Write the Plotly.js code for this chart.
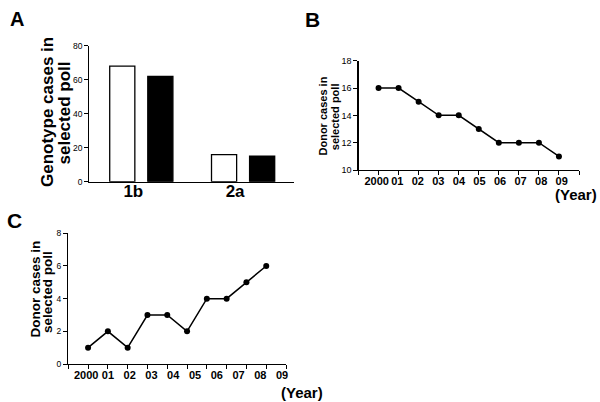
<!DOCTYPE html>
<html>
<head>
<meta charset="utf-8">
<script src="https://cdn.plot.ly/plotly-3.0.1.min.js"></script>
<style>html,body{margin:0;padding:0;background:#fff;}#chart{width:600px;height:402px;}</style>
</head>
<body>
<div id="chart"></div>
<script>
// ---- data ----
var genotypeCategories = ['1b', '2a'];
var genotypeOpen = [68, 16];
var genotypeFilled = [62, 15];
var yearLabels = ['2000', '01', '02', '03', '04', '05', '06', '07', '08', '09'];
var donorCasesB = [16, 16, 15, 14, 14, 13, 12, 12, 12, 11];
var donorCasesC = [1, 2, 1, 3, 3, 2, 4, 4, 5, 6];
var yTicksA = [0, 20, 40, 60, 80];
var yTicksB = [10, 12, 14, 16, 18];
var yTicksC = [0, 2, 4, 6, 8];

var yearIndex = yearLabels.map(function (_, i) { return i + 1; });
var axisTicks = [];
for (var k = 0; k <= yearLabels.length + 1; k++) axisTicks.push(k);

var BOLD = 'Liberation Sans, Arial, sans-serif';

var traces = [
  {type: 'bar', x: genotypeCategories, y: genotypeOpen, xaxis: 'x', yaxis: 'y',
   marker: {color: '#ffffff', line: {color: '#000', width: 1.3}}, hoverinfo: 'skip'},
  {type: 'bar', x: genotypeCategories, y: genotypeFilled, xaxis: 'x', yaxis: 'y',
   marker: {color: '#000000', line: {color: '#000', width: 1.3}}, hoverinfo: 'skip'},
  {type: 'scatter', mode: 'lines+markers', x: yearIndex, y: donorCasesB, xaxis: 'x2', yaxis: 'y2',
   line: {color: '#000', width: 1.5}, marker: {color: '#000', size: 6}, hoverinfo: 'skip'},
  {type: 'scatter', mode: 'lines+markers', x: yearIndex, y: donorCasesC, xaxis: 'x3', yaxis: 'y3',
   line: {color: '#000', width: 1.5}, marker: {color: '#000', size: 6}, hoverinfo: 'skip'},
  {type: 'scatter', x: [], y: [], xaxis: 'x4', yaxis: 'y2', hoverinfo: 'skip'},
  {type: 'scatter', x: [], y: [], xaxis: 'x5', yaxis: 'y3', hoverinfo: 'skip'}
];

function yAx(domain, range, ticks, size, anchor) {
  return {domain: domain, range: range, anchor: anchor, tickvals: ticks, showgrid: false, zeroline: false,
    showline: true, linecolor: '#000', linewidth: 1.3, ticks: 'outside', ticklen: 4, tickwidth: 1, tickcolor: '#000',
    tickfont: {family: 'Liberation Sans, Arial', size: size, color: '#000'}, fixedrange: true};
}
function xMain(domain, anchor) {
  return {domain: domain, range: [0, yearLabels.length + 1], anchor: anchor, tickvals: axisTicks,
    showticklabels: false, showgrid: false, zeroline: false, showline: true, linecolor: '#000', linewidth: 1.3,
    ticks: 'outside', ticklen: 4, tickwidth: 1, tickcolor: '#000', fixedrange: true};
}
function xLabels(over, anchor, range) {
  return {overlaying: over, anchor: anchor, range: range, tickvals: yearIndex, ticktext: yearLabels,
    showgrid: false, zeroline: false, showline: false, ticks: '', ticklen: 0, tickangle: 0, ticklabelstandoff: 3,
    tickfont: {family: BOLD, size: 11, color: '#000', weight: 'bold'}, fixedrange: true};
}

var layout = {
  width: 600, height: 402,
  margin: {l: 0, r: 0, t: 0, b: 0},
  paper_bgcolor: '#fff', plot_bgcolor: 'rgba(0,0,0,0)',
  showlegend: false,
  barmode: 'group', bargap: 0.252, bargroupgap: 0.34,
  xaxis: {domain: [0.149, 0.49], anchor: 'y', type: 'category', range: [-0.51, 1.5],
    showgrid: false, zeroline: false, showline: true, linecolor: '#000', linewidth: 1.3, ticks: '', ticklen: 0,
    tickangle: 0, ticklabelshift: -8, ticklabelstandoff: -6,
    tickfont: {family: BOLD, size: 17, color: '#000', weight: 'bold'}, fixedrange: true},
  yaxis: yAx([0.548, 0.886], [0, 80], yTicksA, 8.5, 'x'),
  xaxis2: xMain([0.5975, 0.965], 'y2'),
  yaxis2: yAx([0.577, 0.849], [10, 18], yTicksB, 9, 'x2'),
  xaxis3: xMain([0.1138, 0.4767], 'y3'),
  yaxis3: yAx([0.0945, 0.4197], [0, 8], yTicksC, 8.5, 'x3'),
  xaxis4: xLabels('x2', 'y2', [0.115, 10.84]),
  xaxis5: xLabels('x3', 'y3', [0.18, 10.18]),
  annotations: []
};

function ann(text, px, py, size, angle) {
  return {text: text, xref: 'paper', yref: 'paper', x: px / 600, y: 1 - py / 402,
    xanchor: 'center', yanchor: 'middle', showarrow: false, textangle: angle || 0,
    font: {family: BOLD, size: size, color: '#000', weight: 'bold'}};
}
layout.annotations.push(ann('A', 16.5, 18.5, 20));
layout.annotations.push(ann('B', 312.5, 19.5, 21));
layout.annotations.push(ann('C', 14, 220.5, 21));
layout.annotations.push(ann('Genotype cases in', 47, 112, 17, -90));
layout.annotations.push(ann('selected poll', 64, 113.5, 17, -90));
layout.annotations.push(ann('Donor cases in', 322.5, 116, 11, -90));
layout.annotations.push(ann('selected poll', 334.5, 116.7, 11, -90));
layout.annotations.push(ann('Donor cases in', 34.5, 289, 13.5, -90));
layout.annotations.push(ann('selected poll', 47.5, 292.5, 13.5, -90));
layout.annotations.push(ann('(Year)', 576, 195, 15));
layout.annotations.push(ann('(Year)', 301.7, 392.5, 15));

Plotly.newPlot('chart', traces, layout, {staticPlot: true, displayModeBar: false});
</script>
</body>
</html>
